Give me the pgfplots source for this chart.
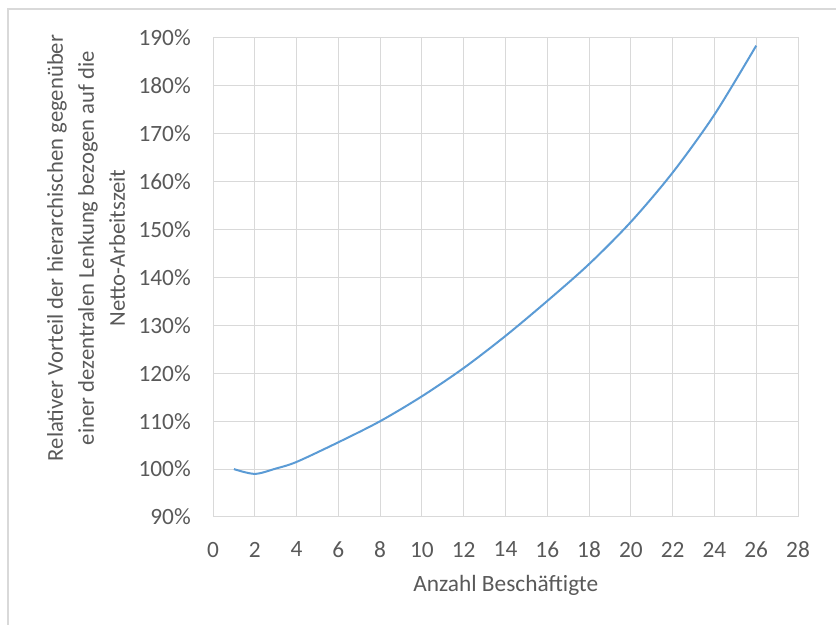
\documentclass[border=0pt]{standalone}
\usepackage{pgfplots}
\pgfplotsset{compat=1.18}
\usepackage{fontspec}
\setmainfont{Carlito}
\definecolor{xlblue}{HTML}{5B9BD5}
\definecolor{xlgrid}{HTML}{D9D9D9}
\definecolor{xltext}{HTML}{595959}

\begin{document}
\begin{tikzpicture}[x=1pt,y=1pt]
	% picture frame: 836 x 625 px at 0.75pt per px
	\useasboundingbox (0,0) rectangle (627,468.75);
	\draw[xlgrid, line width=0.9pt] (6,0) -- (6,462) -- (627,462);

	\begin{axis}[
		at={(159.75pt,81pt)}, anchor=south west,
		scale only axis,
		width=438.75pt, height=359.25pt,
		xmin=0, xmax=28,
		ymin=90, ymax=190,
		xtick={0,2,...,28},
		ytick={90,100,...,190},
		yticklabel={\pgfmathprintnumber{\tick}\%},
		/pgf/number format/assume math mode=true,
		grid=major,
		grid style={xlgrid, line width=0.75pt},
		axis line style={xlgrid, line width=0.75pt},
		major tick length=0pt,
		tick label style={font=\fontsize{17.5}{20}\selectfont, text=xltext, inner sep=0pt},
		yticklabel style={anchor=east, xshift=-16.5pt},
		xticklabel style={anchor=north, yshift=-18.5pt},
		clip=false,
	]
	\addplot[color=xlblue, line width=1.5pt, smooth, tension=0.5] coordinates {
		(1,100.0)
		(2,99.0)
		(3,100.1)
		(4,101.5)
		(6,105.6)
		(8,110.0)
		(10,115.2)
		(12,121.1)
		(14,127.8)
		(16,135.1)
		(18,142.8)
		(20,151.6)
		(22,161.9)
		(24,174.0)
		(26,188.4)
	};
	\end{axis}

	\node[anchor=base, text=xltext, font=\fontsize{17.5}{20}\selectfont] at (379.3,25) {Anzahl Beschäftigte};
	\node[rotate=90, align=center, text=xltext, font=\fontsize{17}{23.25}\selectfont] at (64.5,282.75)
		{Relativer Vorteil der hierarchischen gegenüber\\einer dezentralen Lenkung bezogen auf die\\Netto-Arbeitszeit};
\end{tikzpicture}
\end{document}
